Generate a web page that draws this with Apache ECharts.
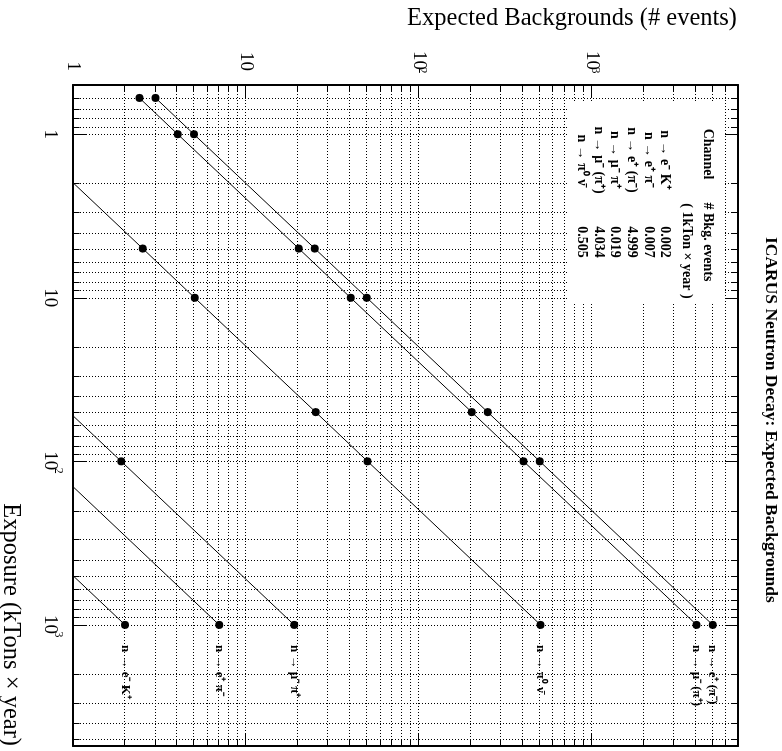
<!DOCTYPE html>
<html>
<head>
<meta charset="utf-8">
<script src="https://cdn.jsdelivr.net/npm/echarts@6/dist/echarts.min.js"></script>
<style>
html,body{margin:0;padding:0;width:782px;height:751px;overflow:hidden;background:#fff;}
#chart{position:absolute;left:0;top:0;width:751px;height:782px;transform-origin:0 0;transform:translate(782px,0) rotate(90deg);}
</style>
</head>
<body>
<div id="chart"></div>
<script>
// ---- data ----
const exposures = [0.6, 1, 5, 10, 50, 100, 1000];           // kTon x year
const channelNames = ['n → e⁻ K⁺', 'n → e⁺ π⁻', 'n → e⁺ (π⁻)', 'n → μ⁻ π⁺', 'n → μ⁻ (π⁺)', 'n → π⁰ ν̄'];
const bkgRates = [0.002, 0.007, 4.999, 0.019, 4.034, 0.505]; // per kTon x year
const bkgEK    = [0.0012, 0.002, 0.01, 0.02, 0.1, 0.2, 2.0];
const bkgEPi   = [0.0042, 0.007, 0.035, 0.07, 0.35, 0.7, 7.0];
const bkgEPiX  = [3.0, 5.0, 25.0, 50.0, 250, 500, 4999];
const bkgMuPi  = [0.0114, 0.019, 0.095, 0.19, 0.95, 1.9, 19];
const bkgMuPiX = [2.42, 4.03, 20.2, 40.3, 202, 403, 4034];
const bkgPi0Nu = [0.30, 0.505, 2.53, 5.05, 25.3, 50.5, 505];
const seriesValues = [bkgEK, bkgEPi, bkgEPiX, bkgMuPi, bkgMuPiX, bkgPi0Nu];

const expTickValues = [1, 10, 100, 1000];
const expTickLabels = ['1', '10', '10^2', '10^3'];
const bkgTickValues = [1, 10, 100, 1000];
const bkgTickLabels = ['1', '10', '10^2', '10^3'];

const expMin = 0.5, expMax = 5500;
const bkgMin = 1, bkgMax = 7000;

const titleText = 'ICARUS Neutron Decay: Expected Backgrounds';
const xTitle = 'Exposure (kTons × year)';
const yTitle = 'Expected Backgrounds (# events)';
const legendHead1 = 'Channel';
const legendHead2 = '# Bkg. events';
const legendHead3 = '( 1kTon × year )';

// ---- helpers ----
const FONT = "'Liberation Serif','Times New Roman',serif";
function minorValues(lo, hi) {
  const out = [];
  for (let d = -1; d <= 4; d++) {
    for (let m = 2; m <= 9; m++) {
      const v = +(m * Math.pow(10, d)).toPrecision(6);
      if (v > lo * 1.0001 && v < hi * 0.9999) out.push(v);
    }
  }
  return out;
}
function makeFmt(vals, labels) {
  return function (v) {
    for (let i = 0; i < vals.length; i++) {
      if (Math.abs(Math.log10(v) - Math.log10(vals[i])) < 1e-6) {
        const p = labels[i].split('^');
        return p.length > 1 ? '{b|' + p[0] + '}{s|' + p[1] + '}' : '{b|' + p[0] + '}';
      }
    }
    return '';
  };
}
const axisLineStyle = { show: true, lineStyle: { color: '#000', width: 2 } };
const tickStyle = { show: true, inside: true, length: 13, lineStyle: { color: '#000', width: 1 } };
const gridLine = { show: true, lineStyle: { color: '#000', width: 1, type: [1, 2] } };

function minorXItem(params, api) {
  const cs = params.coordSys;
  const x = Math.round(api.coord([api.value(0), 10])[0]) + 0.5;
  const t = cs.y, b = cs.y + cs.height;
  return { type: 'group', children: [
    { type: 'line', shape: { x1: x, y1: t, x2: x, y2: b }, style: { stroke: '#000', lineWidth: 1, lineDash: [1, 2] } },
    { type: 'line', shape: { x1: x, y1: b, x2: x, y2: b - 6.5 }, style: { stroke: '#000', lineWidth: 1 } },
    { type: 'line', shape: { x1: x, y1: t, x2: x, y2: t + 6.5 }, style: { stroke: '#000', lineWidth: 1 } }
  ]};
}
function minorYItem(params, api) {
  const cs = params.coordSys;
  const y = Math.round(api.coord([10, api.value(1)])[1]) + 0.5;
  const l = cs.x, r = cs.x + cs.width;
  return { type: 'group', children: [
    { type: 'line', shape: { x1: l, y1: y, x2: r, y2: y }, style: { stroke: '#000', lineWidth: 1, lineDash: [1, 2] } },
    { type: 'line', shape: { x1: l, y1: y, x2: l + 6.5, y2: y }, style: { stroke: '#000', lineWidth: 1 } },
    { type: 'line', shape: { x1: r, y1: y, x2: r - 6.5, y2: y }, style: { stroke: '#000', lineWidth: 1 } }
  ]};
}

const chart = echarts.init(document.getElementById('chart'), null, { renderer: 'canvas' });

const lineSeries = channelNames.map((name, i) => ({
  type: 'line',
  name: name,
  xAxisIndex: 0, yAxisIndex: 0,
  data: exposures.map((e, j) => [e, seriesValues[i][j]]),
  symbol: 'circle', symbolSize: 8, showAllSymbol: true,
  itemStyle: { color: '#000' },
  lineStyle: { color: '#000', width: 1 },
  clip: true,
  z: 2,
  silent: true,
  emphasis: { disabled: true },
  endLabel: { show: true, formatter: '{a}', distance: 20, color: '#000',
              fontFamily: FONT, fontWeight: 'bold', fontSize: 13 }
}));

const option = {
  animation: false,
  backgroundColor: '#fff',
  title: {
    text: titleText, left: 237, top: 2, padding: 0,
    textStyle: { fontFamily: FONT, fontWeight: 'bold', fontSize: 17.5, color: '#000' }
  },
  grid: { left: 85, right: 5, top: 44, bottom: 73, containLabel: false, outerBoundsMode: 'none' },
  xAxis: [
    { type: 'log', logBase: 10, min: expMin, max: expMax, position: 'bottom',
      axisLine: axisLineStyle, axisTick: tickStyle, splitLine: gridLine,
      minorTick: { show: false }, minorSplitLine: { show: false },
      axisLabel: { show: true, margin: 8.5, color: '#000', formatter: makeFmt(expTickValues, expTickLabels),
        rich: {
          b: { fontFamily: FONT, fontSize: 19, lineHeight: 24, verticalAlign: 'bottom', color: '#000' },
          s: { fontFamily: FONT, fontSize: 12, lineHeight: 12, verticalAlign: 'top', width: 1, align: 'left', color: '#000' }
        } } },
    { type: 'log', logBase: 10, min: expMin, max: expMax, position: 'top',
      axisLine: axisLineStyle, axisTick: tickStyle, splitLine: { show: false }, axisLabel: { show: false } }
  ],
  yAxis: [
    { type: 'log', logBase: 10, min: bkgMin, max: bkgMax, position: 'left',
      axisLine: axisLineStyle, axisTick: tickStyle, splitLine: gridLine,
      minorTick: { show: false }, minorSplitLine: { show: false },
      axisLabel: { show: true, margin: 14, color: '#000', formatter: makeFmt(bkgTickValues, bkgTickLabels),
        rich: {
          b: { fontFamily: FONT, fontSize: 19, lineHeight: 19, color: '#000' },
          s: { fontFamily: FONT, fontSize: 12, lineHeight: 12, verticalAlign: 'top', width: 1, align: 'left', color: '#000' }
        } } },
    { type: 'log', logBase: 10, min: bkgMin, max: bkgMax, position: 'right',
      axisLine: axisLineStyle, axisTick: tickStyle, splitLine: { show: false }, axisLabel: { show: false } }
  ],
  legend: {
    orient: 'vertical', left: 118, top: 110, padding: 0,
    icon: 'none', itemWidth: 0, itemHeight: 14, itemGap: 2.67,
    selectedMode: false, z: 4,
    data: channelNames,
    formatter: function (name) {
      const i = channelNames.indexOf(name);
      return '{a|' + name + '}{b|' + bkgRates[i].toFixed(3) + '}';
    },
    textStyle: { fontFamily: FONT, fontWeight: 'bold', fontSize: 14, color: '#000',
      rich: {
        a: { fontFamily: FONT, fontWeight: 'bold', fontSize: 14, lineHeight: 14, width: 74, align: 'center', color: '#000' },
        b: { fontFamily: FONT, fontWeight: 'bold', fontSize: 14, lineHeight: 14, width: 90, align: 'center', color: '#000' }
      } }
  },
  graphic: [
    { type: 'rect', z: 3, silent: true, shape: { x: 103, y: 57, width: 199, height: 158 }, style: { fill: '#fff' } },
    { type: 'text', z: 5, silent: true, x: 154, y: 74, style: { text: legendHead1, font: 'bold 14px ' + FONT, fill: '#000', textAlign: 'center', textVerticalAlign: 'middle' } },
    { type: 'text', z: 5, silent: true, x: 242, y: 74, style: { text: legendHead2, font: 'bold 14px ' + FONT, fill: '#000', textAlign: 'center', textVerticalAlign: 'middle' } },
    { type: 'text', z: 5, silent: true, x: 251, y: 95, style: { text: legendHead3, font: 'bold 14px ' + FONT, fill: '#000', textAlign: 'center', textVerticalAlign: 'middle' } },
    { type: 'text', z: 5, silent: true, x: 19, y: 45, rotation: Math.PI / 2,
      style: { text: yTitle, font: '24.5px ' + FONT, fill: '#000', textAlign: 'right', textVerticalAlign: 'middle' } },
    { type: 'text', z: 5, silent: true, x: 746, y: 772,
      style: { text: xTitle, font: '24.5px ' + FONT, fill: '#000', textAlign: 'right', textVerticalAlign: 'middle' } }
  ],
  series: lineSeries.concat([
    { type: 'custom', name: 'minorX', xAxisIndex: 0, yAxisIndex: 0, z: 1, silent: true, clip: false,
      data: minorValues(expMin, expMax).map(v => [v, 10]), renderItem: minorXItem },
    { type: 'custom', name: 'minorY', xAxisIndex: 0, yAxisIndex: 0, z: 1, silent: true, clip: false,
      data: minorValues(bkgMin, bkgMax).map(v => [10, v]), renderItem: minorYItem }
  ])
};
chart.setOption(option);
</script>
</body>
</html>
